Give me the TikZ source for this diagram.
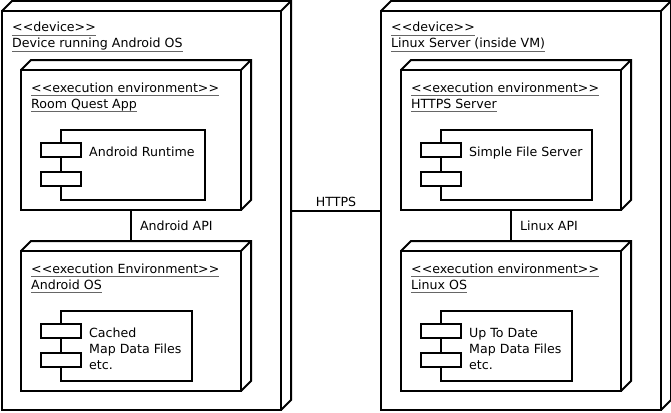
\documentclass[tikz,border=0pt]{standalone}
\usepackage{fontspec}
\setmainfont{DejaVu Sans}[Ligatures=TeXOff]
\usetikzlibrary{positioning}

% underlined label, grey rule just under the baseline
\newcommand\ulab[1]{\setbox0\hbox{#1}\rlap{\color{black!60}\rule[-3.5pt]{\wd0}{0.9pt}}\box0}

\tikzset{
  box/.style={draw, line width=2pt, anchor=north west, inner sep=0pt, outer sep=0pt},
  lbl/.style={anchor=base west, inner sep=0pt},
  txt/.style={anchor=north west, inner sep=0pt, align=left},
}

% 3d sides of a node box
\newcommand\bevel[1]{%
  \draw[line width=2pt] (#1.north west) -- ++(10,-10) -| ([shift={(10,-10)}]#1.south east) -- (#1.south east)
    (#1.north east) -- ++(10,-10);}

% stereotype and name
\newcommand\heading[4]{%
  \node[lbl] (#1s) at ([shift={(10,#4)}]#1.north west) {\ulab{#2}};
  \node[lbl] (#1t) at ([yshift=-16pt]#1s.base west) {\ulab{#3}};}

% component with its two ports
\newcommand\comp[2]{%
  \node[box, fill=white, minimum width=40pt, minimum height=14pt] (#1a) at ([shift={(-20,13)}]#1.north west) {};
  \node[box, fill=white, minimum width=40pt, minimum height=14pt] (#1b) at ([shift={(-20,42)}]#1.north west) {};
  \node[txt] (#1t) at ([shift={(28,17)}]#1.north west) {#2};}

\begin{document}
\begin{tikzpicture}[x=1pt, y=-1pt, font=\fontsize{12.6pt}{16pt}\selectfont]
  \useasboundingbox (0,0) rectangle (671,412);

  % devices
  \node[box, minimum width=279pt, minimum height=399pt] (d1) at (2,11) {};
  \node[box, minimum width=280pt, minimum height=399pt] (d2) at (381,11) {};
  \bevel{d1}
  \bevel{d2}
  \heading{d1}{<<device>>}{Device running Android OS}{21}
  \heading{d2}{<<device>>}{Linux Server (inside VM)}{21}

  % execution environments
  \node[box, minimum width=220pt, minimum height=140pt] (e1) at (21,70) {};
  \node[box, minimum width=220pt, minimum height=140pt] (e2) at (21,251) {};
  \node[box, minimum width=220pt, minimum height=140pt] (e3) at (401,70) {};
  \node[box, minimum width=220pt, minimum height=140pt] (e4) at (401,251) {};
  \bevel{e1}
  \bevel{e2}
  \bevel{e3}
  \bevel{e4}
  \heading{e1}{<<execution environment>>}{Room Quest App}{22.5}
  \heading{e2}{<<execution Environment>>}{Android OS}{22.5}
  \heading{e3}{<<execution environment>>}{HTTPS Server}{22.5}
  \heading{e4}{<<execution environment>>}{Linux OS}{22.5}

  % components
  \node[box, minimum width=144pt, minimum height=70pt] (c1) at (61,130) {};
  \node[box, minimum width=131pt, minimum height=70pt] (c2) at (61,311) {};
  \node[box, minimum width=151pt, minimum height=70pt] (c3) at (441,130) {};
  \node[box, minimum width=131pt, minimum height=70pt] (c4) at (441,311) {};
  \comp{c1}{Android Runtime}
  \comp{c2}{Cached\\Map Data Files\\etc.}
  \comp{c3}{Simple File Server}
  \comp{c4}{Up To Date\\Map Data Files\\etc.}

  % links
  \draw[line width=2pt] ([xshift=10pt]d1.east) -- node[above, inner sep=3pt] (https) {HTTPS} (d2.west);
  \draw[line width=2pt] (e1.south) -- node[right, inner sep=8pt] (aapi) {Android API} ([yshift=10pt]e2.north);
  \draw[line width=2pt] (e3.south) -- node[right, inner sep=8pt] (lapi) {Linux API} ([yshift=10pt]e4.north);
\end{tikzpicture}
\end{document}
